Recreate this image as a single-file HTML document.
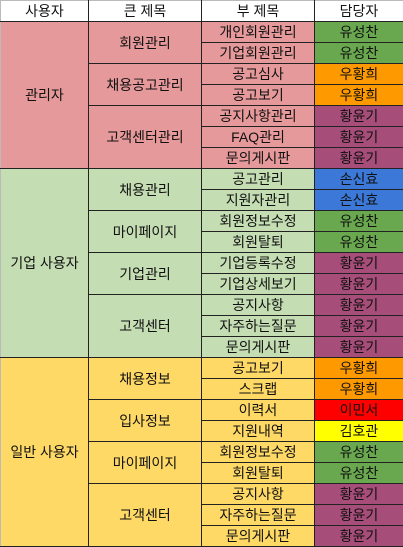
<!DOCTYPE html>
<html><head><meta charset="utf-8"><style>
html,body{margin:0;padding:0;background:#fff;width:403px;height:547px;overflow:hidden}
table{border-collapse:collapse;table-layout:fixed;position:absolute;left:0;top:0;width:403px}
td{border:1px solid #222;height:20px;padding:0;text-align:center;font:14px "Liberation Sans","Noto Sans CJK KR","NanumGothic",sans-serif;color:#111;white-space:nowrap;overflow:hidden;line-height:20px}
tr.h td{background:#fff;border-top:1px solid #bbb}
.p{background:#E6999A}.g{background:#C4DDB3}.y{background:#FFD966}
.G{background:#6AA84F}.O{background:#FF9900}.P{background:#A64D79}.B{background:#3C78D8}.R{background:#FF0000}.Y{background:#FFFF00}
td:first-child{border-left:1px solid #bbb}
</style></head><body>
<table>
<colgroup><col style="width:88px"><col style="width:113px"><col style="width:113px"><col style="width:89px"></colgroup>
<tr class="h"><td>사용자</td><td>큰 제목</td><td>부 제목</td><td>담당자</td></tr>

<tr><td class="p" rowspan="7">관리자</td><td class="p" rowspan="2">회원관리</td><td class="p">개인회원관리</td><td class="G">유성찬</td></tr>
<tr><td class="p">기업회원관리</td><td class="G">유성찬</td></tr>
<tr><td class="p" rowspan="2">채용공고관리</td><td class="p">공고심사</td><td class="O">우황희</td></tr>
<tr><td class="p">공고보기</td><td class="O">우황희</td></tr>
<tr><td class="p" rowspan="3">고객센터관리</td><td class="p">공지사항관리</td><td class="P">황윤기</td></tr>
<tr><td class="p">FAQ관리</td><td class="P">황윤기</td></tr>
<tr><td class="p">문의게시판</td><td class="P">황윤기</td></tr>

<tr><td class="g" rowspan="9">기업 사용자</td><td class="g" rowspan="2">채용관리</td><td class="g">공고관리</td><td class="B">손신효</td></tr>
<tr><td class="g">지원자관리</td><td class="B">손신효</td></tr>
<tr><td class="g" rowspan="2">마이페이지</td><td class="g">회원정보수정</td><td class="G">유성찬</td></tr>
<tr><td class="g">회원탈퇴</td><td class="G">유성찬</td></tr>
<tr><td class="g" rowspan="2">기업관리</td><td class="g">기업등록수정</td><td class="P">황윤기</td></tr>
<tr><td class="g">기업상세보기</td><td class="P">황윤기</td></tr>
<tr><td class="g" rowspan="3">고객센터</td><td class="g">공지사항</td><td class="P">황윤기</td></tr>
<tr><td class="g">자주하는질문</td><td class="P">황윤기</td></tr>
<tr><td class="g">문의게시판</td><td class="P">황윤기</td></tr>

<tr><td class="y" rowspan="9">일반 사용자</td><td class="y" rowspan="2">채용정보</td><td class="y">공고보기</td><td class="O">우황희</td></tr>
<tr><td class="y">스크랩</td><td class="O">우황희</td></tr>
<tr><td class="y" rowspan="2">입사정보</td><td class="y">이력서</td><td class="R">이민서</td></tr>
<tr><td class="y">지원내역</td><td class="Y">김호관</td></tr>
<tr><td class="y" rowspan="2">마이페이지</td><td class="y">회원정보수정</td><td class="G">유성찬</td></tr>
<tr><td class="y">회원탈퇴</td><td class="G">유성찬</td></tr>
<tr><td class="y" rowspan="3">고객센터</td><td class="y">공지사항</td><td class="P">황윤기</td></tr>
<tr><td class="y">자주하는질문</td><td class="P">황윤기</td></tr>
<tr><td class="y">문의게시판</td><td class="P">황윤기</td></tr>
</table>
</body></html>
